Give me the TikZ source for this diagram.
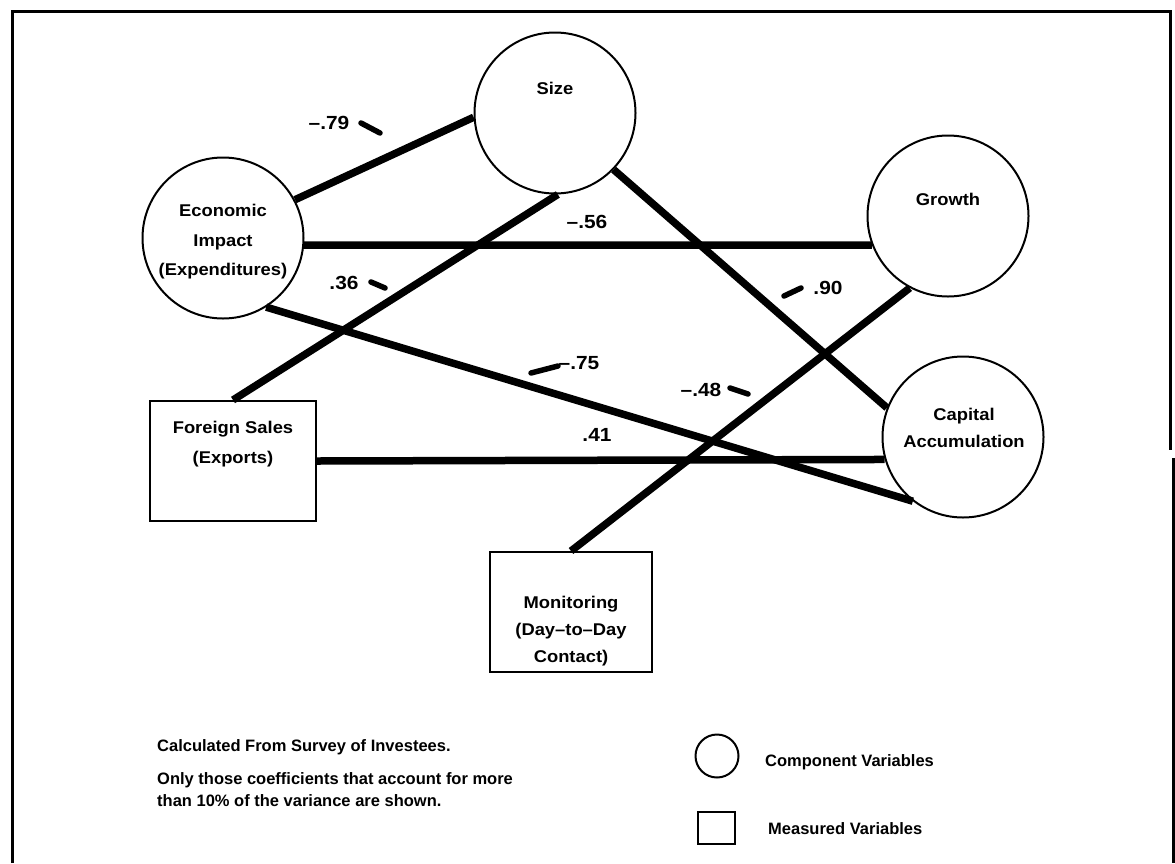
\documentclass[tikz,border=0pt]{standalone}
\usepackage{fontspec}
\setmainfont{Liberation Sans}
\newfontfamily\lblfont{Liberation Sans}[FakeStretch=1.08]
\newfontfamily\coeffont{Liberation Sans}[FakeStretch=1.1]
\begin{document}
\begin{tikzpicture}[x=1pt,y=-1pt,
  comp/.style={circle,draw,line width=2pt,minimum size=#1,inner sep=0pt},
  comp/.default=161pt,
  meas/.style={rectangle,draw,line width=2pt,inner sep=0pt},
  link/.style={line width=7.5pt},
  tickm/.style={line width=5.5pt,line cap=round},
  lbl/.style={font=\lblfont\bfseries\fontsize{17}{29.5}\selectfont,align=center,inner sep=0pt},
  lbltight/.style={font=\lblfont\bfseries\fontsize{17}{27}\selectfont},
  coef/.style={font=\coeffont\bfseries\fontsize{19}{22}\selectfont,inner sep=0pt},
  note/.style={font=\bfseries\fontsize{16.5}{22}\selectfont,inner sep=0pt,anchor=west,align=left}]
\useasboundingbox (0,0) rectangle (1175,863);
% frame
\draw[line width=3pt] (12,863) -- (12,11) -- (1170,11) -- (1170,450);
\draw[line width=3pt] (1173,458) -- (1173,863);
% component variables
\node[comp] (econ) at (223,238) {};
\node[comp] (size) at (555,113) {};
\node[comp] (growth) at (948,216) {};
\node[comp] (capital) at (963,437) {};
% measured variables
\node[meas,minimum width=166pt,minimum height=120pt] (foreign) at (233,461) {};
\node[meas,minimum width=162pt,minimum height=120pt] (monitor) at (571,612) {};
% labels
\node[lbl] (econT) at (223,242) {Economic\\Impact\\(Expenditures)};
\node[lbl] (sizeT) at (555,88) {Size};
\node[lbl] (growthT) at (948,199) {Growth};
\node[lbl,lbltight] (capT) at (964,428) {Capital\\Accumulation};
\node[lbl] (forT) at (233,444) {Foreign Sales\\(Exports)};
\node[lbl,lbltight] (monT) at (571,631) {Monitoring\\(Day\textendash to\textendash Day\\Contact)};
% connectors
\draw[link] (econ.28) -- (size.183);
\draw[link] (econ.-5) -- (growth.201);
\draw[link] (size.-44) -- (capital.159);
\draw[link] (foreign.north) -- (size.-88);
\draw[link] (econ.-58) -- (capital.232);
\draw[link] (foreign.east) -- (capital.196);
\draw[link] (monitor.north) -- (growth.242);
% coefficients
\node[coef] (c79) at (329,123) {\textendash.79};
\coordinate (t79a) at (361,123); \coordinate (t79b) at (380,133);
\draw[tickm] (t79a) -- (t79b);
\node[coef] (c56) at (587,222) {\textendash.56};
\node[coef] (c90) at (828,288) {.90};
\coordinate (t90a) at (784,296); \coordinate (t90b) at (801,288);
\draw[tickm] (t90a) -- (t90b);
\node[coef] (c36) at (344,283) {.36};
\coordinate (t36a) at (371,282); \coordinate (t36b) at (385,288);
\draw[tickm] (t36a) -- (t36b);
\node[coef] (c75) at (579,363) {\textendash.75};
\coordinate (t75a) at (531,373); \coordinate (t75b) at (558,366);
\draw[tickm] (t75a) -- (t75b);
\node[coef] (c41) at (597,435) {.41};
\node[coef] (c48) at (701,390) {\textendash.48};
\coordinate (t48a) at (730,388); \coordinate (t48b) at (748,394);
\draw[tickm] (t48a) -- (t48b);
% notes
\node[note] (n1) at (157,747) {Calculated From Survey of Investees.};
\node[note] (n2) at (157,790) {Only those coefficients that account for more\\than 10\% of the variance are shown.};
% legend
\node[comp=43pt] (legC) at (717,756) {};
\node[meas,minimum width=37pt,minimum height=32pt] (legS) at (716,828) {};
\node[note] (legCT) at (765,762) {Component Variables};
\node[note] (legST) at (768,829) {Measured Variables};
\end{tikzpicture}
\end{document}
